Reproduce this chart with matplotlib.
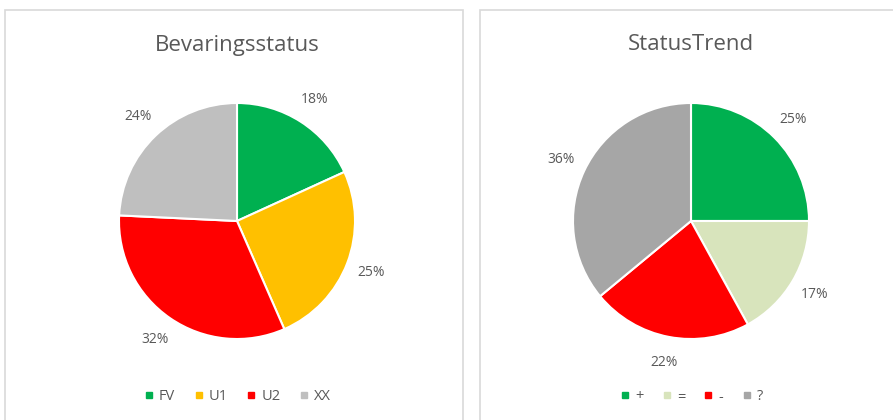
import matplotlib.pyplot as plt
from matplotlib.lines import Line2D
from matplotlib.patches import Rectangle

# data
status_labels = ["FV", "U1", "U2", "XX"]
status_values = [18, 25, 32, 24]
status_colors = ["#00B050", "#FFC000", "#FF0000", "#BFBFBF"]

trend_labels = ["+", "=", "-", "?"]
trend_values = [25, 17, 22, 36]
trend_colors = ["#00B050", "#D8E4BC", "#FF0000", "#A6A6A6"]

W, H = 893, 420
text_color = "#595959"
plt.rcParams['font.family'] = ['Open Sans', 'DejaVu Sans']

fig = plt.figure(figsize=(W / 100, H / 100), dpi=100)
fig.patch.set_facecolor("white")


def px_box(x0, y0, x1, y1):
    # pixel coords (top-left origin) -> figure fraction
    return x0 / W, 1 - y1 / H, (x1 - x0) / W, (y1 - y0) / H


def draw_panel(x0, x1, cx, title, labels, values, colors):
    l, b, w, h = px_box(x0, 10, x1, 440)
    fig.add_artist(Rectangle((l, b), w, h, transform=fig.transFigure,
                             facecolor="none", edgecolor="#D9D9D9", lw=1.2,
                             zorder=-1))
    fig.text(cx / W, 1 - 45 / H, title, ha="center", va="center",
             fontsize=16, color=text_color)

    r = 118
    ax = fig.add_axes(px_box(cx - r, 221 - r, cx + r, 221 + r))
    ax.pie(values, colors=colors, startangle=90, counterclock=False,
           autopct=lambda p: f"{p:.0f}%", pctdistance=1.22,
           wedgeprops=dict(edgecolor="white", linewidth=1.5),
           textprops=dict(color=text_color, fontsize=10))
    ax.set_xlim(-1, 1)
    ax.set_ylim(-1, 1)
    ax.set_aspect("equal")
    ax.axis("off")

    handles = [Line2D([0], [0], marker="s", color="w", markerfacecolor=c,
                      markeredgecolor=c, markersize=5, label=lab)
               for lab, c in zip(labels, colors)]
    fig.legend(handles=handles, loc="center", ncol=len(labels),
               bbox_to_anchor=(cx / W, 1 - 397 / H), frameon=False,
               handlelength=0.8, handletextpad=0.3, columnspacing=1.2,
               labelcolor=text_color, fontsize=10.5)


draw_panel(5, 463, 237, "Bevaringsstatus", status_labels, status_values, status_colors)
draw_panel(480, 910, 691, "StatusTrend", trend_labels, trend_values, trend_colors)

fig.savefig("out.png", dpi=100, facecolor="white")
